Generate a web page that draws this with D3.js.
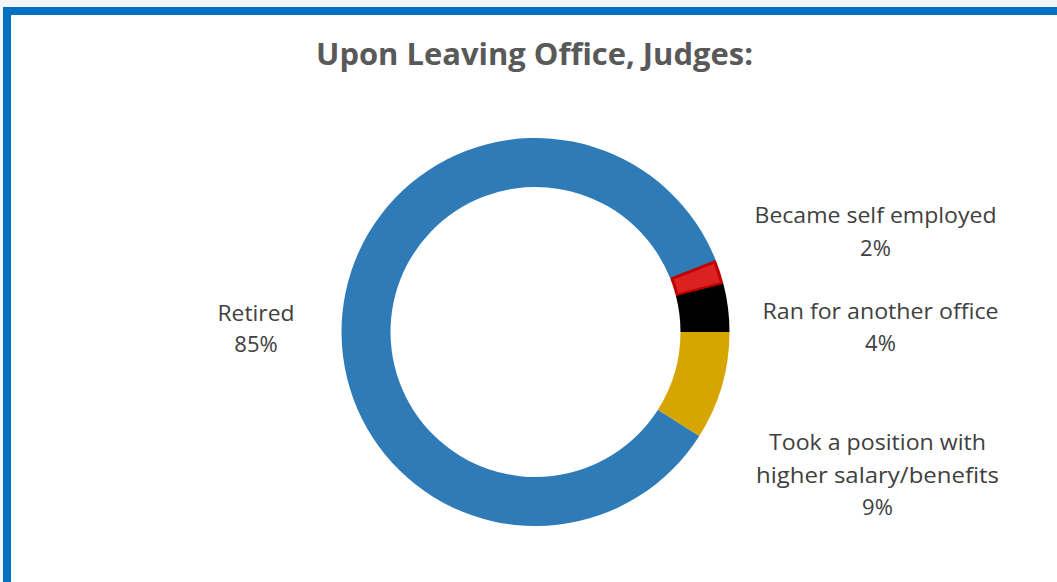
<!DOCTYPE html>
<html>
<head>
<meta charset="utf-8">
<script src="https://cdn.jsdelivr.net/npm/d3@7"></script>
<style>
  html, body { margin: 0; padding: 0; background: #f3f7fc; }
  svg { display: block; }
</style>
</head>
<body>
<svg id="chart" width="1057" height="582"></svg>
<script>
const categories = ["Retired", "Became self employed", "Ran for another office", "Took a position with higher salary/benefits"];
const values = [85, 2, 4, 9];
const labelLines = [
  ["Retired", "85%"],
  ["Became self employed", "2%"],
  ["Ran for another office", "4%"],
  ["Took a position with", "higher salary/benefits", "9%"]
];
const colors = ["#2e7bb8", "#dc2121", "#000000", "#d6a500"];
const strokes = ["none", "#c00000", "none", "none"];
const titleText = "Upon Leaving Office, Judges:";

const svg = d3.select("#chart");
const W = 1057, H = 582;

// frame
svg.append("rect").attr("x", 3).attr("y", 7).attr("width", W + 20).attr("height", H + 20)
  .attr("fill", "#ffffff");
svg.append("rect").attr("x", 7).attr("y", 11).attr("width", W + 20).attr("height", H + 20)
  .attr("fill", "none").attr("stroke", "#0070c0").attr("stroke-width", 8);

// title
const title = svg.append("text")
  .attr("x", 534.5).attr("y", 65)
  .attr("text-anchor", "middle")
  .attr("font-family", "'Open Sans', sans-serif")
  .attr("font-weight", "bold")
  .attr("font-size", 31)
  .attr("fill", "#595959")
  .text(titleText);
title.attr("textLength", 437).attr("lengthAdjust", "spacingAndGlyphs");

// donut
const cx = 535.5, cy = 332, rOuter = 194, rInner = 145;
const startDeg = 122.4;
const pie = d3.pie().sort(null).value(d => d)
  .startAngle(startDeg * Math.PI / 180)
  .endAngle((startDeg + 360) * Math.PI / 180);
const arc = d3.arc().innerRadius(rInner).outerRadius(rOuter);
const arcs = pie(values);

const g = svg.append("g").attr("transform", `translate(${cx},${cy})`);
const arcInset = d3.arc().innerRadius(rInner + 1.5).outerRadius(rOuter - 1.5);
g.selectAll("path.slice").data(arcs).enter().append("path")
  .attr("class", "slice")
  .attr("d", (d, i) => strokes[i] === "none" ? arc(d) : arcInset({...d, startAngle: d.startAngle + 0.004, endAngle: d.endAngle - 0.004}))
  .attr("fill", (d, i) => colors[i])
  .attr("stroke", (d, i) => strokes[i])
  .attr("stroke-width", (d, i) => strokes[i] === "none" ? 0 : 3)
  .attr("stroke-linejoin", "round");

// labels
const labelPos = [
  {x: 256, y: 320.5, lw: [77, 44]},
  {x: 875.5, y: 223, lw: [242, 39]},
  {x: 880.5, y: 318.5, lw: [236, 32]},
  {x: 877.5, y: 450, lw: [217, 243, 32]}
];
const lineH = [31, 32.5, 32.5, 32.5];
labelLines.forEach((lines, i) => {
  const p = labelPos[i];
  const t = svg.append("text")
    .attr("text-anchor", "middle")
    .attr("font-family", "'Open Sans', sans-serif")
    .attr("font-size", 22)
    .attr("fill", "#404040");
  lines.forEach((ln, j) => {
    const ts = t.append("tspan")
      .attr("x", p.x).attr("y", p.y + j * lineH[i])
      .text(ln);
    if (ln.indexOf("%") < 0) ts.attr("textLength", p.lw[j]).attr("lengthAdjust", "spacingAndGlyphs");
  });
});
</script>
</body>
</html>
